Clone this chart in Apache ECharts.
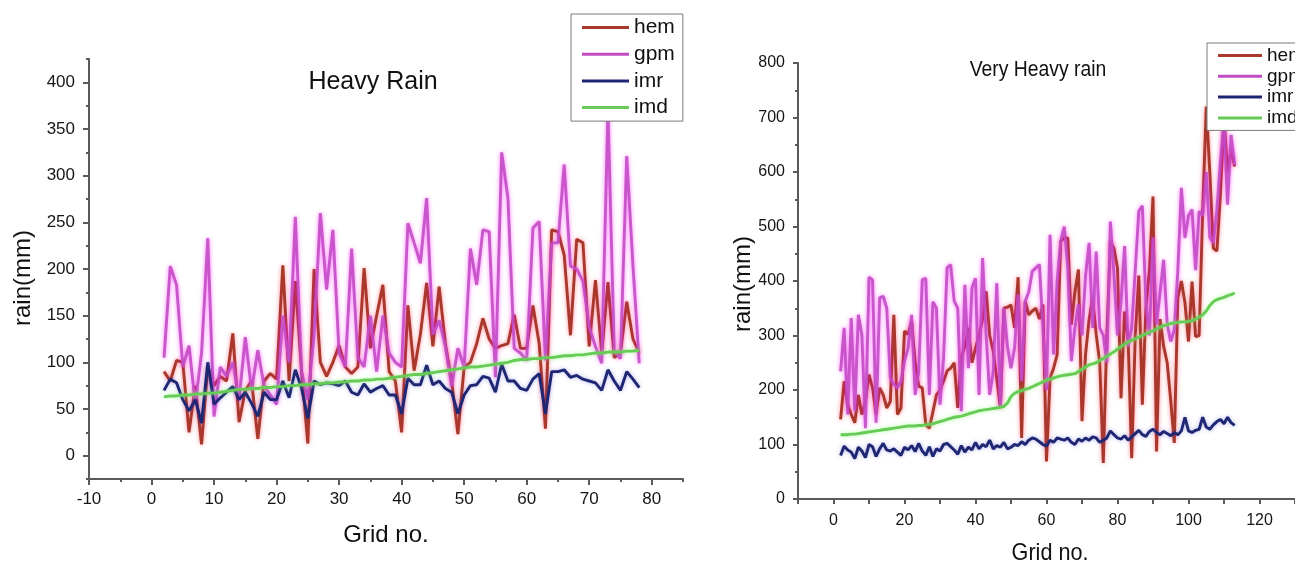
<!DOCTYPE html>
<html>
<head>
<meta charset="utf-8">
<script src="https://cdn.jsdelivr.net/npm/echarts@6/dist/echarts.min.js"></script>
<style>
html,body{margin:0;padding:0;background:#fff;}
#c{width:1295px;height:564px;}
</style>
</head>
<body>
<div id="c"></div>
<script>
// ---------- DATA ----------
const seriesNames = ['hem', 'gpm', 'imr', 'imd'];

// Heavy Rain (left), grid no. 2..78
const leftStart = 2;
const leftHem = [90,80,102,100,25,75,12,95,75,85,80,131,36,70,80,18,80,88,82,204,80,187,90,13,200,100,85,100,118,95,88,95,201,115,150,183,90,80,25,161,91,130,185,117,181,120,80,23,95,100,120,147,125,115,118,120,151,115,115,161,120,29,242,240,215,129,232,228,117,188,110,186,105,110,165,125,110];
const leftGpm = [105,203,183,95,118,55,110,233,42,95,85,100,60,127,70,113,75,65,55,150,100,256,90,60,130,260,178,242,110,95,222,105,95,150,90,150,110,100,95,249,228,206,276,130,145,117,74,115,95,222,183,242,240,84,325,276,115,110,102,244,251,102,228,228,312,203,200,187,138,117,99,370,113,104,321,203,99];
const leftImr = [70,82,78,60,48,60,35,100,55,62,68,74,60,68,56,42,68,60,60,80,62,92,72,40,80,76,78,77,75,80,68,65,77,68,72,75,65,65,45,83,76,76,97,76,80,72,68,45,65,75,76,85,83,68,98,80,80,72,70,82,88,45,90,90,92,84,86,82,80,78,70,92,80,70,90,82,73];
const leftImd = [63,64,64,65,65,66,66,67,67,68,69,70,71,71,72,72,73,73,74,74,75,75,76,76,77,77,78,78,79,79,80,80,81,81,82,82,83,84,85,86,87,87,88,89,90,91,92,93,94,95,95,96,97,98,99,100,102,103,103,104,104,105,105,106,107,107,108,108,109,110,110,111,111,111,112,112,113];

// Very Heavy rain (right), grid no. 2..113
const rightStart = 2;
const rightHem = [146,216,173,155,140,191,155,180,228,204,155,204,191,167,179,338,155,167,308,302,326,253,207,204,136,130,160,191,200,216,235,240,250,167,260,280,314,250,277,300,330,381,300,271,220,167,350,352,356,314,407,112,363,338,345,350,330,357,69,222,240,265,473,479,479,320,380,421,143,265,330,369,302,250,66,300,473,460,424,185,344,290,75,300,410,173,350,420,555,87,330,280,250,180,103,370,400,360,289,399,298,300,530,720,600,460,455,560,700,600,640,610];
const rightGpm = [234,314,155,332,161,338,301,130,407,402,140,369,372,350,222,210,204,216,253,277,338,191,234,402,405,191,362,350,173,259,424,430,363,350,161,393,240,387,405,191,442,300,191,234,396,167,350,280,240,277,375,216,363,380,418,424,430,314,200,485,265,400,473,500,424,253,314,357,300,410,470,314,454,314,300,250,509,412,300,363,464,280,314,420,528,538,360,300,480,320,380,439,320,289,310,420,571,479,520,531,420,528,520,600,480,470,530,620,693,540,668,613];
const rightImr = [80,97,90,86,74,95,88,76,100,96,78,92,102,90,88,92,86,80,95,90,98,87,102,88,80,96,78,92,88,100,102,96,90,82,98,86,95,90,104,92,100,96,108,92,98,95,104,92,95,100,98,105,100,108,112,110,105,100,97,108,104,112,110,108,112,104,100,110,106,112,108,114,112,104,108,112,125,118,112,110,116,108,114,120,126,118,115,124,128,122,118,124,120,116,122,118,125,150,125,122,126,128,150,132,128,136,142,146,138,150,140,135];
const rightImd = [118,118,118,119,119,120,121,122,123,124,125,126,127,128,129,130,131,132,133,134,134,134,135,135,136,137,138,140,142,144,146,148,150,151,152,154,156,158,160,162,163,164,165,166,167,168,170,176,188,194,197,199,201,203,206,209,212,215,218,220,222,224,226,227,228,229,230,234,238,242,246,248,250,254,258,262,266,270,275,280,284,288,291,294,297,300,303,306,309,312,315,318,320,322,323,324,325,325,326,327,330,334,338,345,355,362,366,368,370,373,375,378];

// Tick labels
const leftXTicks = [-10,0,10,20,30,40,50,60,70,80];
const leftXMinor = [-5,5,15,25,35,45,55,65,75,85];
const leftYTicks = [0,50,100,150,200,250,300,350,400];
const leftYMinor = [-25,25,75,125,175,225,275,325,375,425];
const rightXTicks = [0,20,40,60,80,100,120];
const rightXMinor = [-10,10,30,50,70,90,110,130];
const rightYTicks = [0,100,200,300,400,500,600,700,800];
const rightYMinor = [50,150,250,350,450,550,650,750];

// ---------- STYLE ----------
const colors = {
  hem: '#a8382c',
  gpm: '#c24cc4',
  imr: '#1f2672',
  imd: '#66cc55'
};
const glow = {
  hem: 'rgba(255,40,60,0.55)',
  gpm: 'rgba(255,0,255,0.6)',
  imr: 'rgba(40,40,200,0.35)',
  imd: 'rgba(130,255,110,0.6)'
};
const axisColor = '#5a5a5a';
const labelFont = 'Liberation Sans, Arial, sans-serif';

function pair(arr, start) { return arr.map((v, i) => [i + start, v]); }

function mkSeries(name, arr, start, axisIdx) {
  return {
    name: name,
    type: 'line',
    xAxisIndex: axisIdx,
    yAxisIndex: axisIdx,
    data: pair(arr, start),
    symbol: 'none',
    animation: false,
    lineStyle: {
      color: colors[name],
      width: 2.9,
      shadowColor: glow[name],
      shadowBlur: 4,
      opacity: name === 'gpm' ? 0.9 : 1
    },
    itemStyle: { color: colors[name] }
  };
}

function majorAxis(grid, pos, min, max, labels, size, margin, tickLen) {
  return {
    type: 'value', gridIndex: grid, position: pos, min: min, max: max,
    axisLine: { show: true, onZero: false, lineStyle: { color: axisColor, width: 2 } },
    axisTick: { show: true, inside: false, length: tickLen, customValues: labels, lineStyle: { color: axisColor, width: 2 } },
    axisLabel: { show: true, customValues: labels, margin: margin, color: '#151515', fontSize: size, fontFamily: labelFont },
    splitLine: { show: false }
  };
}
function minorAxis(grid, pos, min, max, ticks, tickLen) {
  return {
    type: 'value', gridIndex: grid, position: pos, offset: 0, min: min, max: max,
    axisLine: { show: false, onZero: false },
    axisTick: { show: true, inside: false, length: tickLen, customValues: ticks, lineStyle: { color: axisColor, width: 2 } },
    axisLabel: { show: false },
    splitLine: { show: false }
  };
}

function legendCfg(left, top, itemW, gap, fontSize, lineH) {
  return {
    data: seriesNames,
    orient: 'vertical',
    left: left, top: top,
    padding: [3, 8, 3, 11],
    icon: 'rect',
    itemWidth: itemW, itemHeight: 3, itemGap: gap,
    backgroundColor: '#ffffff',
    borderColor: '#7a7a7a', borderWidth: 1,
    selectedMode: false,
    itemStyle: { borderWidth: 0 },
    textStyle: { fontSize: fontSize, lineHeight: lineH, color: '#111', fontFamily: labelFont, padding: [0, 0, 0, 0] }
  };
}

const chart = echarts.init(document.getElementById('c'), null, { renderer: 'canvas' });

const option = {
  backgroundColor: '#ffffff',
  animation: false,
  color: seriesNames.map(n => colors[n]),
  grid: [
    { left: 89, top: 59, width: 594, height: 420, containLabel: false },
    { left: 798, top: 63, width: 504, height: 436, containLabel: false }
  ],
  xAxis: [
    majorAxis(0, 'bottom', -10, 85, leftXTicks, 17, 12, 6),
    minorAxis(0, 'bottom', -10, 85, leftXMinor, 3),
    majorAxis(1, 'bottom', -10, 130, rightXTicks, 16, 14, 5),
    minorAxis(1, 'bottom', -10, 130, rightXMinor, 5)
  ],
  yAxis: [
    majorAxis(0, 'left', -25, 425, leftYTicks, 17, 14, 6),
    minorAxis(0, 'left', -25, 425, leftYMinor, 3),
    majorAxis(1, 'left', 0, 800, rightYTicks, 16, 13, 5),
    minorAxis(1, 'left', 0, 800, rightYMinor, 3)
  ],
  legend: [
    legendCfg(571, 14, 47, 5.7, 21, 20),
    legendCfg(1207, 43, 44, 1.8, 19, 18)
  ],
  graphic: [
    { type: 'text', x: 373, y: 82, style: { text: 'Heavy Rain', fontSize: 25, fontFamily: labelFont, fill: '#111', textAlign: 'center', textVerticalAlign: 'middle' } },
    { type: 'text', x: 1038, y: 70, scaleX: 0.88, style: { text: 'Very Heavy rain', fontSize: 22, fontFamily: labelFont, fill: '#111', textAlign: 'center', textVerticalAlign: 'middle' } },
    { type: 'text', x: 386, y: 535, style: { text: 'Grid no.', fontSize: 24, fontFamily: labelFont, fill: '#111', textAlign: 'center', textVerticalAlign: 'middle' } },
    { type: 'text', x: 1050, y: 553, scaleX: 0.9, style: { text: 'Grid no.', fontSize: 24, fontFamily: labelFont, fill: '#111', textAlign: 'center', textVerticalAlign: 'middle' } },
    { type: 'text', x: 23, y: 278, rotation: Math.PI / 2, style: { text: 'rain(mm)', fontSize: 24, fontFamily: labelFont, fill: '#111', textAlign: 'center', textVerticalAlign: 'middle' } },
    { type: 'text', x: 743, y: 284, rotation: Math.PI / 2, style: { text: 'rain(mm)', fontSize: 24, fontFamily: labelFont, fill: '#111', textAlign: 'center', textVerticalAlign: 'middle' } }
  ],
  series: [
    mkSeries('hem', leftHem, leftStart, 0),
    mkSeries('gpm', leftGpm, leftStart, 0),
    mkSeries('imr', leftImr, leftStart, 0),
    mkSeries('imd', leftImd, leftStart, 0),
    mkSeries('hem', rightHem, rightStart, 2),
    mkSeries('gpm', rightGpm, rightStart, 2),
    mkSeries('imr', rightImr, rightStart, 2),
    mkSeries('imd', rightImd, rightStart, 2)
  ]
};
chart.setOption(option);
</script>
</body>
</html>
